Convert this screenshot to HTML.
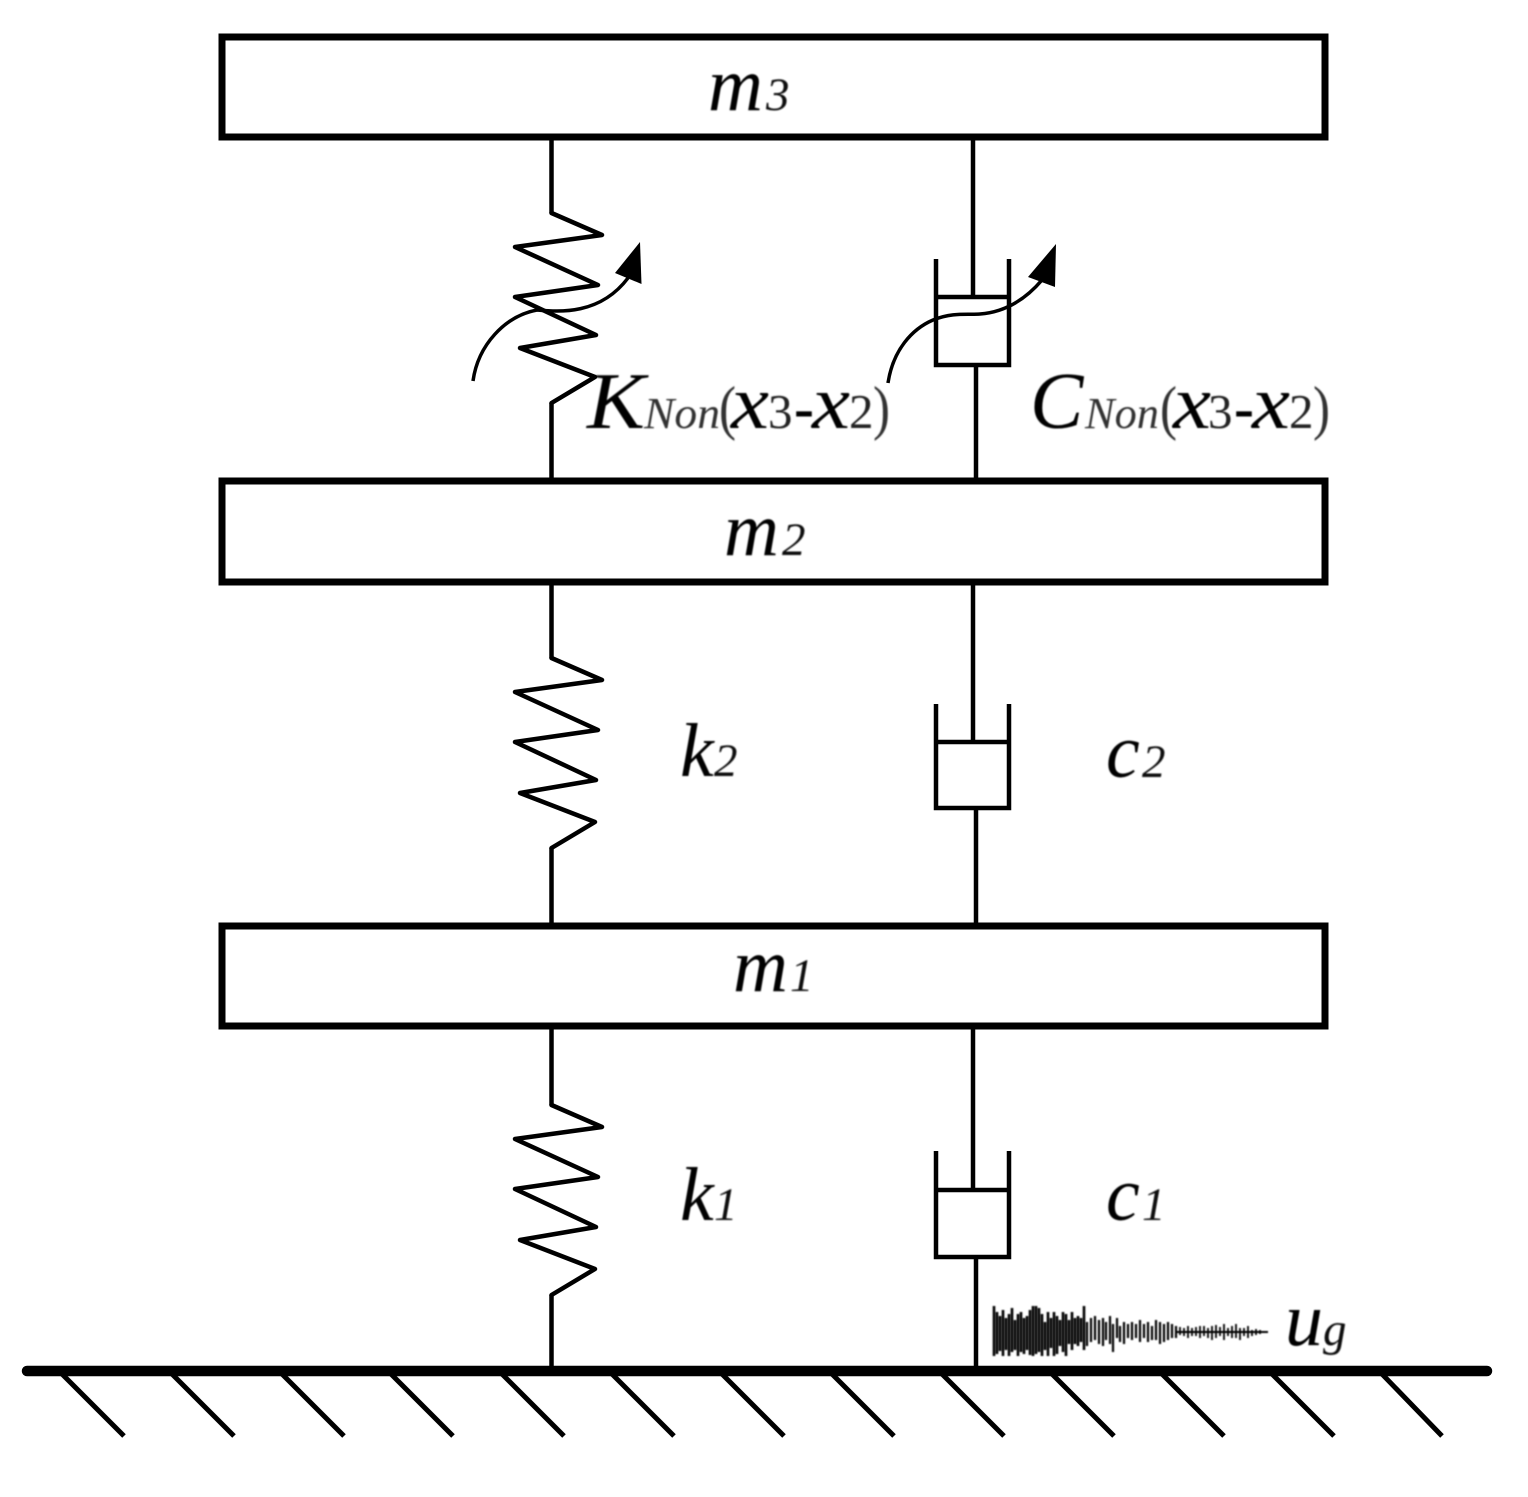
<!DOCTYPE html>
<html><head><meta charset="utf-8"><style>
html,body{margin:0;padding:0;background:#fff;width:1528px;height:1497px;overflow:hidden}
svg{display:block}
text{font-family:"Liberation Serif",serif;font-style:italic;fill:#000}
.m{font-size:76px}.s{font-size:47px;fill:#111}.k{font-size:80px}.n{font-size:44px;fill:#333}.x{font-size:76px}.d{font-size:49px;font-style:normal;fill:#222}.p{font-size:60px;font-style:normal;fill:#333}.h{font-size:60px;font-style:normal;font-weight:bold}
.g{fill:none;stroke:#000}
</style></head><body>
<svg width="1528" height="1497" viewBox="0 0 1528 1497" xmlns="http://www.w3.org/2000/svg">
<defs>
<g id="spring" class="g" stroke-width="4.5" stroke-linejoin="round" stroke-linecap="round">
<polyline points="551.5,213 602,235 515,247 598,285 515,297 596,335 520,348 595,377 551.5,403"/>
</g>
<filter id="b" x="-5%" y="-5%" width="110%" height="110%"><feGaussianBlur stdDeviation="0.7"/></filter>
</defs>
<!-- masses -->
<g fill="#fff" stroke="#000" stroke-width="7">
<rect x="222" y="37" width="1103" height="100"/>
<rect x="222" y="481" width="1103" height="101"/>
<rect x="222" y="926" width="1103" height="100"/>
</g>
<!-- springs -->
<g class="g" stroke-width="4.5">
<path d="M551.5 140V213M551.5 403V478M551.5 585V658M551.5 848V923M551.5 1029V1105M551.5 1295V1366"/>
</g>
<use href="#spring"/>
<use href="#spring" transform="translate(0,445)"/>
<use href="#spring" transform="translate(0,892)"/>
<!-- dampers -->
<g class="g" stroke-width="4.5">
<path d="M973 140V297M936 259V365H1009V259M936 297H1009M976 365V478"/>
<path d="M973 585V742M936 704V808H1009V704M936 742H1009M976 808V923"/>
<path d="M973 1029V1190M936 1151V1257H1009V1151M936 1190H1009M976 1257V1366"/>
</g>
<!-- ground -->
<path d="M27 1371H1487" class="g" stroke-width="10.5" stroke-linecap="round"/>
<g class="g" stroke-width="5">
<path d="M62 1374L124 1436M172 1374L234 1436M282 1374L344 1436M391 1374L453 1436M502 1374L564 1436M612 1374L674 1436M722 1374L784 1436M832 1374L894 1436M942 1374L1004 1436M1052 1374L1114 1436M1162 1374L1224 1436M1272 1374L1334 1436M1382 1374L1442 1436"/>
</g>
<!-- variable arrows -->
<path class="g" stroke-width="3.5" d="M473 381C478 345 505 316 537 310C560 312 600 315 628 278"/>
<polygon points="640,242 641.5,284 615,273"/>
<path class="g" stroke-width="3.5" d="M888 383C893 350 912 329 933 320C953 312 968 315 980 314C1005 312 1025 300 1042 280"/>
<polygon points="1056,244 1055,287 1028,277"/>
<!-- ground motion -->
<g class="g" filter="url(#b)">
<path stroke-width="2.6" d="M994 1306V1356M997 1312V1354M1000 1316V1351M1003 1310V1356M1006 1318V1350M1009 1314V1356M1012 1308V1352M1015 1320V1350M1018 1314V1356M1021 1312V1352M1024 1318V1354M1027 1316V1350M1030 1310V1355M1033 1306V1356M1036 1306V1354M1039 1308V1352M1042 1314V1356M1045 1322V1350M1048 1312V1356M1051 1318V1348M1054 1312V1356M1057 1316V1354M1060 1320V1346M1063 1312V1352M1066 1314V1356M1069 1320V1344M1072 1312V1350M1075 1318V1344M1078 1316V1346M1081 1318V1342M1084 1306V1350"/>
<path stroke-width="2.2" d="M1087 1322V1346M1091 1318V1342M1095 1316V1340M1099 1320V1344M1103 1318V1346M1106 1322V1340M1110 1316V1344M1113 1324V1352M1117 1318V1338M1120 1326V1342M1124 1322V1344M1128 1324V1338M1132 1322V1340M1136 1324V1338M1140 1320V1342M1144 1324V1338M1148 1322V1342M1152 1326V1340M1156 1320V1340M1160 1322V1344M1164 1324V1342M1168 1322V1340M1172 1324V1338M1176 1326V1338"/>
<path stroke-width="1.8" d="M1180 1327V1335M1184 1328V1336M1188 1326V1338M1192 1328V1336M1196 1327V1336M1200 1326V1338M1204 1326V1336M1208 1328V1338M1212 1326V1340M1216 1325V1338M1220 1327V1336M1224 1324V1340M1228 1328V1336M1232 1326V1338M1236 1324V1338M1240 1328V1340M1244 1328V1336M1248 1326V1338M1252 1330V1336M1256 1329V1335M1260 1330V1334"/>
<path stroke-width="2" d="M1176 1332H1268"/>
</g>
<!-- labels -->
<g filter="url(#b)">
<text class="m" x="708" y="110">m</text><text class="s" x="766" y="110">3</text>
<text class="m" x="724" y="555">m</text><text class="s" x="782" y="555">2</text>
<text class="m" x="733" y="991">m</text><text class="s" x="790" y="991">1</text>
<text class="m" x="680" y="776">k</text><text class="s" x="714" y="776">2</text>
<text class="m" x="680" y="1220">k</text><text class="s" x="714" y="1220">1</text>
<text class="m" x="1106" y="777">c</text><text class="s" x="1142" y="777">2</text>
<text class="m" x="1106" y="1220">c</text><text class="s" x="1142" y="1220">1</text>
<text class="m" x="1285" y="1345">u</text><text class="s" x="1323" y="1345">g</text>

<text class="k" x="587" y="428" textLength="58" lengthAdjust="spacingAndGlyphs">K</text>
<text class="n" x="644" y="428" textLength="76" lengthAdjust="spacingAndGlyphs">Non</text>
<text class="p" x="719" y="428" textLength="17" lengthAdjust="spacingAndGlyphs">(</text>
<text class="x" x="731" y="428" textLength="38" lengthAdjust="spacingAndGlyphs">x</text>
<text class="d" x="768" y="428">3</text>
<text class="h" x="794" y="428">-</text>
<text class="x" x="812" y="428" textLength="38" lengthAdjust="spacingAndGlyphs">x</text>
<text class="d" x="849" y="428">2</text>
<text class="p" x="873" y="428" textLength="17" lengthAdjust="spacingAndGlyphs">)</text>

<text class="k" x="1030" y="428">C</text>
<text class="n" x="1085" y="428" textLength="74" lengthAdjust="spacingAndGlyphs">Non</text>
<text class="p" x="1160" y="428" textLength="17" lengthAdjust="spacingAndGlyphs">(</text>
<text class="x" x="1173" y="428" textLength="38" lengthAdjust="spacingAndGlyphs">x</text>
<text class="d" x="1208" y="428">3</text>
<text class="h" x="1234" y="428">-</text>
<text class="x" x="1252" y="428" textLength="38" lengthAdjust="spacingAndGlyphs">x</text>
<text class="d" x="1289" y="428">2</text>
<text class="p" x="1313" y="428" textLength="17" lengthAdjust="spacingAndGlyphs">)</text>
</g>
</svg>
</body></html>
